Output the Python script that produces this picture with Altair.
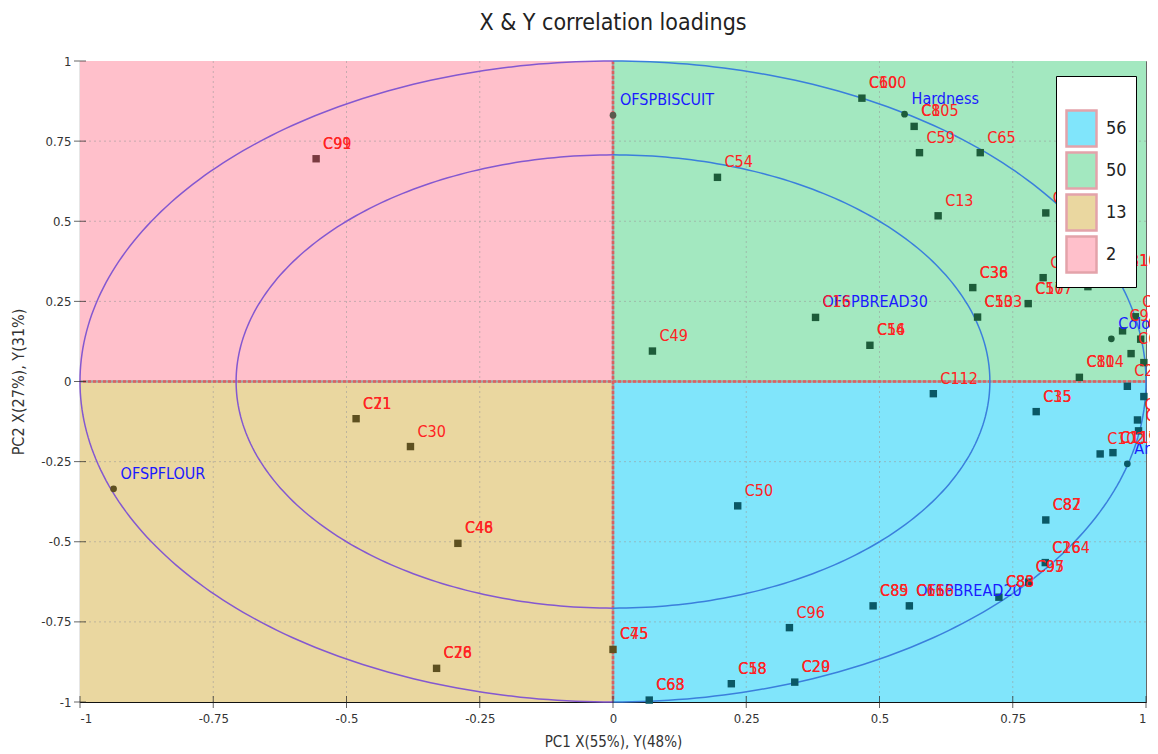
import altair as alt
import numpy as np
import pandas as pd

TITLE = "X & Y correlation loadings"
X_TITLE = "PC1 X(55%), Y(48%)"
Y_TITLE = "PC2 X(27%), Y(31%)"

# quadrant legend (counts of objects per quadrant)
quad_label = ["56", "50", "13", "2"]
quad_x1 = [0, 0, -1, -1]
quad_x2 = [1, 1, 0, 0]
quad_y1 = [-1, 0, -1, 0]
quad_y2 = [0, 1, 0, 1]
quad_fill = ["#80e5fb", "#a3e8c0", "#ead7a0", "#ffc0cb"]

tick_vals = [-1, -0.75, -0.5, -0.25, 0, 0.25, 0.5, 0.75, 1]
grid_vals = [-0.75, -0.5, -0.25, 0.25, 0.5, 0.75]
ellipse_radii = [1.0, 0.7071]

# loadings: x, y, kind (s = sample, v = variable), quadrant group, labels
pt_x = [0.000, 0.196, 0.467, 0.547, 0.565, 0.575, 0.689, 0.610, 0.812, 0.675,
        0.684, 0.779, 0.807, 0.891, 0.905, 0.938, 0.956, 0.980, 0.935, 0.990,
        0.972, 0.996, 0.875, 0.380, 0.380, 0.074, 0.482,
        0.601, 0.794, 0.965, 0.996, 0.984, 0.986, 0.914, 0.938, 0.965, 0.234,
        0.812, 0.811, 0.780, 0.724, 0.556, 0.556, 0.488, 0.331, 0.222, 0.341,
        0.068, 0.000,
        -0.937, -0.482, -0.380, -0.291, -0.331,
        -0.557]
pt_y = [0.831, 0.637, 0.884, 0.834, 0.796, 0.714, 0.714, 0.517, 0.526, 0.293,
        0.201, 0.243, 0.324, 0.296, 0.306, 0.329, 0.158, 0.202, 0.133, 0.132,
        0.087, 0.059, 0.013, 0.200, 0.200, 0.095, 0.113,
        -0.038, -0.094, -0.015, -0.047, -0.120, -0.154, -0.226, -0.222, -0.257, -0.388,
        -0.432, -0.565, -0.626, -0.673, -0.700, -0.700, -0.700, -0.768, -0.943, -0.938,
        -0.994, -0.836,
        -0.335, -0.116, -0.203, -0.505, -0.895,
        0.695]
pt_kind = ["v", "s", "s", "v", "s", "s", "s", "s", "s", "s",
           "s", "s", "s", "s", "s", "s", "s", "s", "v", "s",
           "s", "s", "s", "v", "s", "s", "s",
           "s", "s", "s", "s", "s", "s", "s", "s", "v", "s",
           "s", "s", "s", "s", "v", "s", "s", "s", "s", "s",
           "s", "s",
           "v", "s", "s", "s", "s",
           "s"]
pt_grp = ["n", "g", "g", "g", "g", "g", "g", "g", "g", "g",
          "g", "g", "g", "g", "g", "g", "g", "g", "g", "g",
          "g", "g", "g", "g", "g", "g", "g",
          "c", "c", "c", "c", "c", "c", "c", "c", "c", "c",
          "c", "c", "c", "c", "c", "c", "c", "c", "c", "c",
          "c", "t",
          "t", "t", "t", "t", "t",
          "p"]
pt_lab1 = ["OFSPBISCUIT", "C54", "C60", "Hardness", "C8", "C59", "C65", "C13", "C7", "C36",
           "C53", "C57", "C3", "C40", "C41", "C31", "C9", "C4", "Colour", "C5",
           "C6", "C10", "C80", "OFSPBREAD30", "C16", "C49", "C14",
           "C112", "C35", "C27", "C11", "C19", "C12", "C102", "C119", "Aroma", "C50",
           "C87", "C26", "C95", "C88", "OFSPBREAD20", "C66", "C85", "C96", "C58", "C20",
           "C68", "C45",
           "OFSPFLOUR", "C21", "C30", "C46", "C28",
           "C91"]
pt_lab2 = ["", "", "C100", "", "C105", "", "", "", "", "C38",
           "C103", "C107", "", "", "", "C110", "", "", "", "",
           "", "", "C114", "", "", "", "C56",
           "", "C15", "", "", "", "", "", "C117", "", "",
           "C82", "C164", "C97", "C83", "", "C116", "C89", "", "C18", "C29",
           "C63", "C75",
           "", "C71", "", "C48", "C76",
           "C99"]

# styles
grp_color = {"g": "#1d5c3a", "c": "#0a5866", "t": "#5e5020", "p": "#7a3a40", "n": "#5b5a4e"}
half_color = {"right": "#3a7fdc", "left": "#8458d0"}
FONT = "DejaVu Sans Condensed, DejaVu Sans"

quad = pd.DataFrame({"label": quad_label, "x": quad_x1, "x2": quad_x2,
                     "y": quad_y1, "y2": quad_y2})
pts = pd.DataFrame({"x": pt_x, "y": pt_y, "kind": pt_kind, "grp": pt_grp,
                    "lab1": pt_lab1, "lab2": pt_lab2})
pts["col"] = pts["grp"].map(grp_color)

lab_rows = []
for _, r in pts.iterrows():
    for t in (r["lab1"], r["lab2"]):
        if t:
            lab_rows.append({"x": r["x"], "y": r["y"], "text": t, "kind": r["kind"]})
labs = pd.DataFrame(lab_rows)

ell_rows = []
for r in ellipse_radii:
    for half, (a0, a1) in {"right": (-90, 90), "left": (90, 270)}.items():
        for i, a in enumerate(np.linspace(a0, a1, 181)):
            ell_rows.append({"x": r * np.cos(np.radians(a)), "y": r * np.sin(np.radians(a)),
                             "seg": f"{r}-{half}", "o": i, "col": half_color[half]})
ell = pd.DataFrame(ell_rows)

ticks = pd.DataFrame({"v": tick_vals})
grid = pd.DataFrame({"v": grid_vals})
zero = pd.DataFrame({"v": [0]})

sc = alt.Scale(domain=[-1, 1], nice=False, zero=False)
xaxis = alt.Axis(values=tick_vals, labelExpr="'' + datum.value", grid=False, ticks=False,
                 labelPadding=10, titlePadding=9, titleFontSize=15)
yaxis = alt.Axis(values=tick_vals, labelExpr="'' + datum.value", grid=False, ticks=False,
                 labelPadding=9, titlePadding=14, titleFontSize=16)


def X(f):
    return alt.X(f, type="quantitative", scale=sc, axis=xaxis, title=X_TITLE)


def Y(f):
    return alt.Y(f, type="quantitative", scale=sc, axis=yaxis, title=Y_TITLE)


rects = alt.Chart(quad).mark_rect(opacity=1).encode(
    x=X("x"), x2="x2", y=Y("y"), y2="y2",
    fill=alt.Fill("label:N", scale=alt.Scale(domain=quad_label, range=quad_fill),
                  sort=quad_label, title=" ",
                  legend=alt.Legend(orient="none", legendX=976, legendY=15,
                                    fillColor="white", strokeColor="black", padding=9,
                                    titleFontSize=14, titlePadding=13,
                                    symbolType="M-1,-1.2H1V1.2H-1Z", symbolSize=900,
                                    symbolStrokeColor="#e3a3aa", symbolStrokeWidth=2.5,
                                    symbolOpacity=1, labelFontSize=18, labelFont=FONT,
                                    labelColor="#222", labelOffset=8, rowPadding=-5)),
)

gx = alt.Chart(grid).mark_rule(strokeDash=[2, 3], color="#999", opacity=0.55).encode(x=X("v"))
gy = alt.Chart(grid).mark_rule(strokeDash=[2, 3], color="#999", opacity=0.55).encode(y=Y("v"))

zx0 = alt.Chart(zero).mark_rule(color="#a0a0a0", strokeWidth=2.5).encode(x=X("v"))
zy0 = alt.Chart(zero).mark_rule(color="#a0a0a0", strokeWidth=2.5).encode(y=Y("v"))
zx = alt.Chart(zero).mark_rule(color="#dc6060", strokeWidth=2.5, strokeDash=[3, 2]).encode(x=X("v"))
zy = alt.Chart(zero).mark_rule(color="#dc6060", strokeWidth=2.5, strokeDash=[3, 2]).encode(y=Y("v"))

ellipses = alt.Chart(ell).mark_line(strokeWidth=1.5).encode(
    x=X("x"), y=Y("y"), detail="seg:N", order="o:Q",
    color=alt.Color("col:N", scale=None),
)

bt = alt.Chart(ticks).mark_tick(orient="vertical", size=12, thickness=1, color="#222").encode(
    x=X("v"), y=alt.datum(-1))
lt = alt.Chart(ticks).mark_tick(orient="horizontal", size=12, thickness=1, color="#222").encode(
    y=Y("v"), x=alt.datum(-1))

squares = alt.Chart(pts).transform_filter("datum.kind == 's'").mark_square(
    size=55, opacity=1).encode(x=X("x"), y=Y("y"), color=alt.Color("col:N", scale=None))
circles = alt.Chart(pts).transform_filter("datum.kind == 'v'").mark_circle(
    size=45, opacity=1).encode(x=X("x"), y=Y("y"), color=alt.Color("col:N", scale=None))

vlab = alt.Chart(labs).transform_filter("datum.kind == 'v'").mark_text(
    align="left", baseline="middle", dx=7, dy=-15, font=FONT, fontSize=16, color="#1a1aff"
).encode(x=X("x"), y=Y("y"), text="text:N")
slab = alt.Chart(labs).transform_filter("datum.kind == 's'").mark_text(
    align="left", baseline="middle", dx=7, dy=-15, font=FONT, fontSize=16, color="#ff2222"
).encode(x=X("x"), y=Y("y"), text="text:N")

chart = alt.layer(
    rects, gx, gy, zx0, zy0, zx, zy, ellipses, bt, lt, circles, squares, vlab, slab
).properties(
    width=1066, height=641,
    title=alt.TitleParams(TITLE, fontSize=23, font=FONT, fontWeight="normal",
                          color="#222", anchor="middle", offset=20),
    autosize=alt.AutoSizeParams(type="none"),
    padding={"left": 72, "top": 53, "right": 4, "bottom": 50},
).configure_view(stroke="#666", strokeWidth=1).configure_axis(
    domainColor="#111", domainWidth=1.2, labelFont=FONT, labelFontSize=13,
    labelColor="#333", titleFont=FONT, titleFontWeight="normal",
    titleColor="#333",
)

chart.save("out.html", embed_options={"renderer": "svg", "actions": False})
